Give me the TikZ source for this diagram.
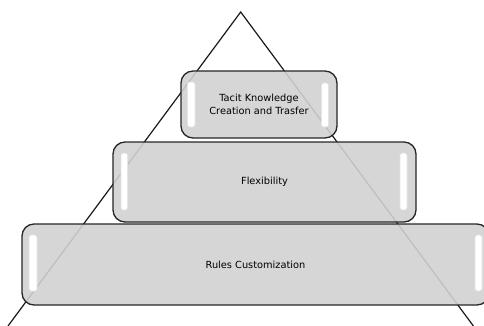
\documentclass[tikz,border=0pt]{standalone}
\usepackage{fontspec}
\setmainfont{DejaVu Sans}
\begin{document}
\begin{tikzpicture}[x=1pt,y=-1pt,
  tier/.style={draw=black!85, line width=1.3pt, rounded corners=12pt, fill=black!18, fill opacity=0.9, text opacity=1, inner sep=0pt, font=\fontsize{9.8}{13}\selectfont, text=black, align=center},
  gloss/.style={fill=white, draw=black!10, line width=0.6pt, rounded corners=2.5pt}
]
\useasboundingbox (0,0) rectangle (484,326);
% triangle
\coordinate (apex) at (240.7,12);
\coordinate (bl) at (8,326);
\coordinate (br) at (473.4,326);
\draw[line width=1.2pt, black!90] (bl) -- (apex) -- (br);
% tiers
\node[tier, minimum width=489-22, minimum height=81] (t3) at ({(22+489)/2},{(224+305)/2}) {Rules Customization};
\node[tier, minimum width=416-113, minimum height=80] (t2) at ({(113+416)/2},{(142+222)/2}) {Flexibility};
\node[tier, minimum width=337-181, minimum height=67] (t1) at ({(181+337)/2},{(71+138)/2}) {Tacit Knowledge\\Creation and Trasfer};
% gloss highlights
\filldraw[gloss] (187.5,82) rectangle (195,127);
\filldraw[gloss] (321.5,83) rectangle (328.5,127);
\filldraw[gloss] (121,153) rectangle (127.5,210);
\filldraw[gloss] (400,153) rectangle (407,210);
\filldraw[gloss] (29,235) rectangle (37,291);
\filldraw[gloss] (475,235) rectangle (482,291);
\end{tikzpicture}
\end{document}
